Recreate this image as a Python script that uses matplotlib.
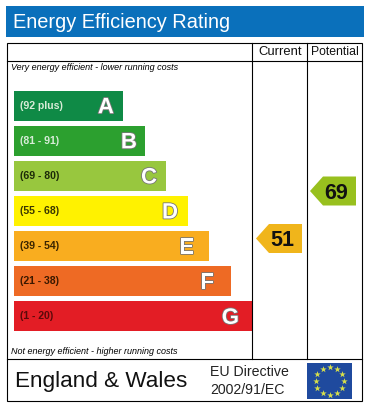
import numpy as np
import matplotlib
matplotlib.use('Agg')
import matplotlib.pyplot as plt
import matplotlib.patheffects as pe
from matplotlib.patches import Polygon, Rectangle

plt.rcParams['font.family'] = ['Liberation Sans', 'DejaVu Sans']

letters = ['A', 'B', 'C', 'D', 'E', 'F', 'G']
ranges = ['(92 plus)', '(81 - 91)', '(69 - 80)', '(55 - 68)', '(39 - 54)', '(21 - 38)', '(1 - 20)']
bar_lengths = [109, 131, 152, 174, 195, 217, 238]
bar_colors = ['#0f8a46', '#2ca02f', '#98c73e', '#fff200', '#f9ad1f', '#ee6a24', '#e31d25']
range_colors = ['#d8ecd8', '#d8ecd8', '#1c2a08', '#3a3600', '#3a2400', '#3a1800', '#5a0a0a']

current = 51
potential = 69

fig = plt.figure(figsize=(3.72, 4.07), dpi=100)
ax = fig.add_axes([0, 0, 1, 1])
ax.set_xlim(0, 372)
ax.set_ylim(407, 0)
ax.axis('off')

# header band
ax.add_patch(Rectangle((6, 6), 358, 31, color='#0a70bb', lw=0))
ax.text(13, 23, 'Energy Efficiency Rating', color='white', fontsize=14.4, va='center')

# table frame
ax.add_patch(Rectangle((6.5, 42.5), 355, 358.5, fill=False, ec='black', lw=0.8))
ax.plot([6.5, 361.5], [61.3, 61.3], color='black', lw=0.8)
ax.plot([6.5, 361.5], [359.3, 359.3], color='black', lw=0.8)
ax.plot([252.3, 252.3], [42.5, 359.3], color='black', lw=0.8)
ax.plot([307, 307], [42.5, 359.3], color='black', lw=0.8)
ax.text(280, 52, 'Current', fontsize=9.4, ha='center', va='center', color='#111111')
ax.text(334.5, 52, 'Potential', fontsize=8.8, ha='center', va='center', color='#111111')

ax.text(11, 68, 'Very energy efficient - lower running costs', fontsize=6.45, style='italic', va='center')
ax.text(11, 352, 'Not energy efficient - higher running costs', fontsize=6.45, style='italic', va='center')

# rating bars
y_pos = 105.7 + 35.1 * np.arange(len(letters))
ax.barh(y_pos, bar_lengths, height=30, left=14, color=bar_colors, lw=0)
letter_inset = [9, 8, 9, 10, 15, 17, 13]
for y, w, inset, letter, rng, rc in zip(y_pos, bar_lengths, letter_inset, letters, ranges, range_colors):
    ax.text(20.5, y, rng, fontsize=7.6, fontweight='bold', color=rc, va='center')
    ax.text(14 + w - inset, y + 2, letter, fontsize=16, fontweight='bold', color='white', ha='right', va='center',
            path_effects=[pe.withStroke(linewidth=1.2, foreground='#777777')])

# arrows for current and potential
def arrow(x, y, value, color):
    pts = [(x, y), (x + 13, y - 14.5), (x + 46, y - 14.5), (x + 46, y + 14.5), (x + 13, y + 14.5)]
    ax.add_patch(Polygon(pts, closed=True, color=color, lw=0))
    ax.text(x + 26.5, y + 2.5, str(value), fontsize=15.5, fontweight='bold', color='#111111', ha='center', va='center')

arrow(256, 238.5, current, '#f0b51b')
arrow(310, 191, potential, '#98c01e')

# footer
ax.text(15, 381, 'England & Wales', fontsize=16.2, va='center', color='#111111')
ax.text(210, 372, 'EU Directive', fontsize=10.2, va='center', color='#222222')
ax.text(210, 390, '2002/91/EC', fontsize=10.2, va='center', color='#222222')

ax.add_patch(Rectangle((307, 363), 45, 36, color='#1f4a9e', lw=0))
ang = np.deg2rad(np.arange(0, 360, 30))
ax.scatter(329.5 + 14 * np.cos(ang), 381 + 14 * np.sin(ang), marker='*', s=24, color='#d8e04a', lw=0)

fig.savefig('out.png', dpi=100)
